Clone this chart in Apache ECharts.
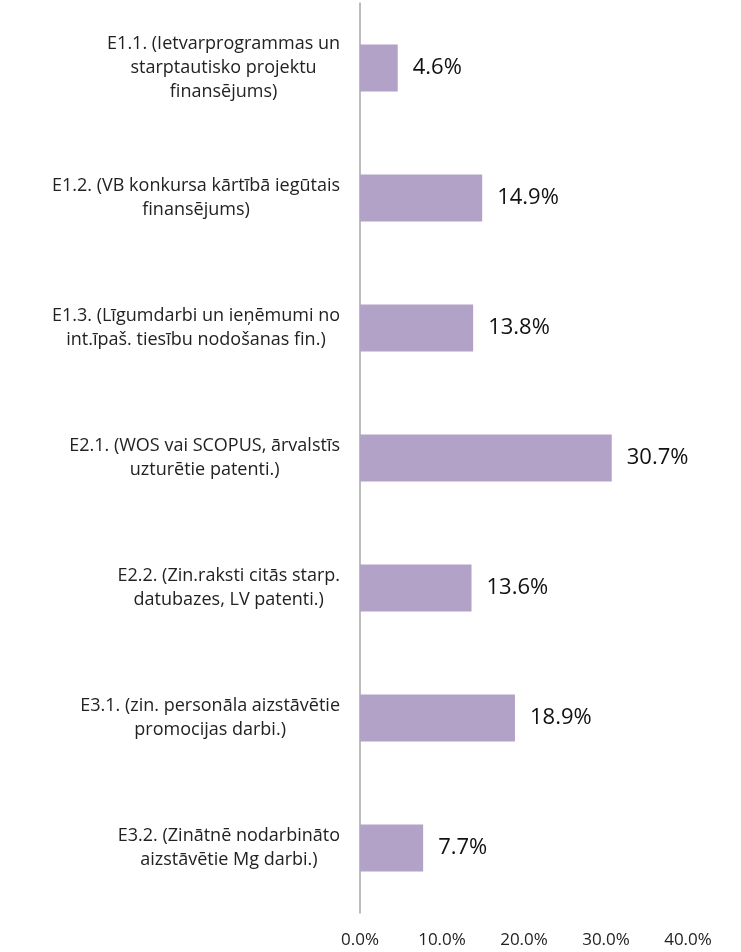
<!DOCTYPE html>
<html><head><meta charset="utf-8">
<script src="https://cdn.jsdelivr.net/npm/echarts@6/dist/echarts.min.js"></script>
<style>html,body{margin:0;padding:0;background:#fff}#c{width:741px;height:952px}</style>
</head><body><div id="c"></div>
<script>
const categories = [
  "E1.1. (Ietvarprogrammas un\nstarptautisko projektu\nfinansējums)",
  "E1.2. (VB konkursa kārtībā iegūtais\nfinansējums)",
  "E1.3. (Līgumdarbi un ieņēmumi no\nint.īpaš. tiesību nodošanas fin.)",
  "E2.1. (WOS vai SCOPUS, ārvalstīs\nuzturētie patenti.)",
  "E2.2. (Zin.raksti citās starp.\ndatubazes, LV patenti.)",
  "E3.1. (zin. personāla aizstāvētie\npromocijas darbi.)",
  "E3.2. (Zinātnē nodarbināto\naizstāvētie Mg darbi.)"
];
const values = [4.6, 14.9, 13.8, 30.7, 13.6, 18.9, 7.7];
const xMin = 0, xMax = 40, xStep = 10;

const FONT = "Open Sans";
const chart = echarts.init(document.getElementById('c'));
chart.setOption({
  animation: false,
  grid: {left: 360, right: 53, top: 3, bottom: 39, containLabel: false},
  xAxis: {
    type: 'value', min: xMin, max: xMax, interval: xStep,
    axisLine: {show: false}, axisTick: {show: false}, splitLine: {show: false},
    axisLabel: {margin: 19, fontFamily: FONT, fontSize: 17, color: '#222',
      formatter: v => v.toFixed(1) + '%'}
  },
  yAxis: {
    type: 'category', data: categories, inverse: true,
    axisLine: {show: true, lineStyle: {color: '#a6a6a6', width: 1.5}},
    axisTick: {show: false},
    axisLabel: {
      margin: 20, fontFamily: FONT, fontSize: 18, color: '#222', lineHeight: 24,
      formatter: v => v.split('\n').map(l => '{c|' + l + '}').join('\n'),
      rich: {c: {align: 'center', fontFamily: FONT, fontSize: 18, color: '#222', lineHeight: 24}}
    }
  },
  series: [{
    type: 'bar', data: values, barCategoryGap: '64%',
    itemStyle: {color: '#b3a2c7'},
    label: {show: true, position: 'right', distance: 15, fontFamily: FONT, fontSize: 22, color: '#111',
      formatter: p => p.value.toFixed(1) + '%'}
  }]
});
</script></body></html>
